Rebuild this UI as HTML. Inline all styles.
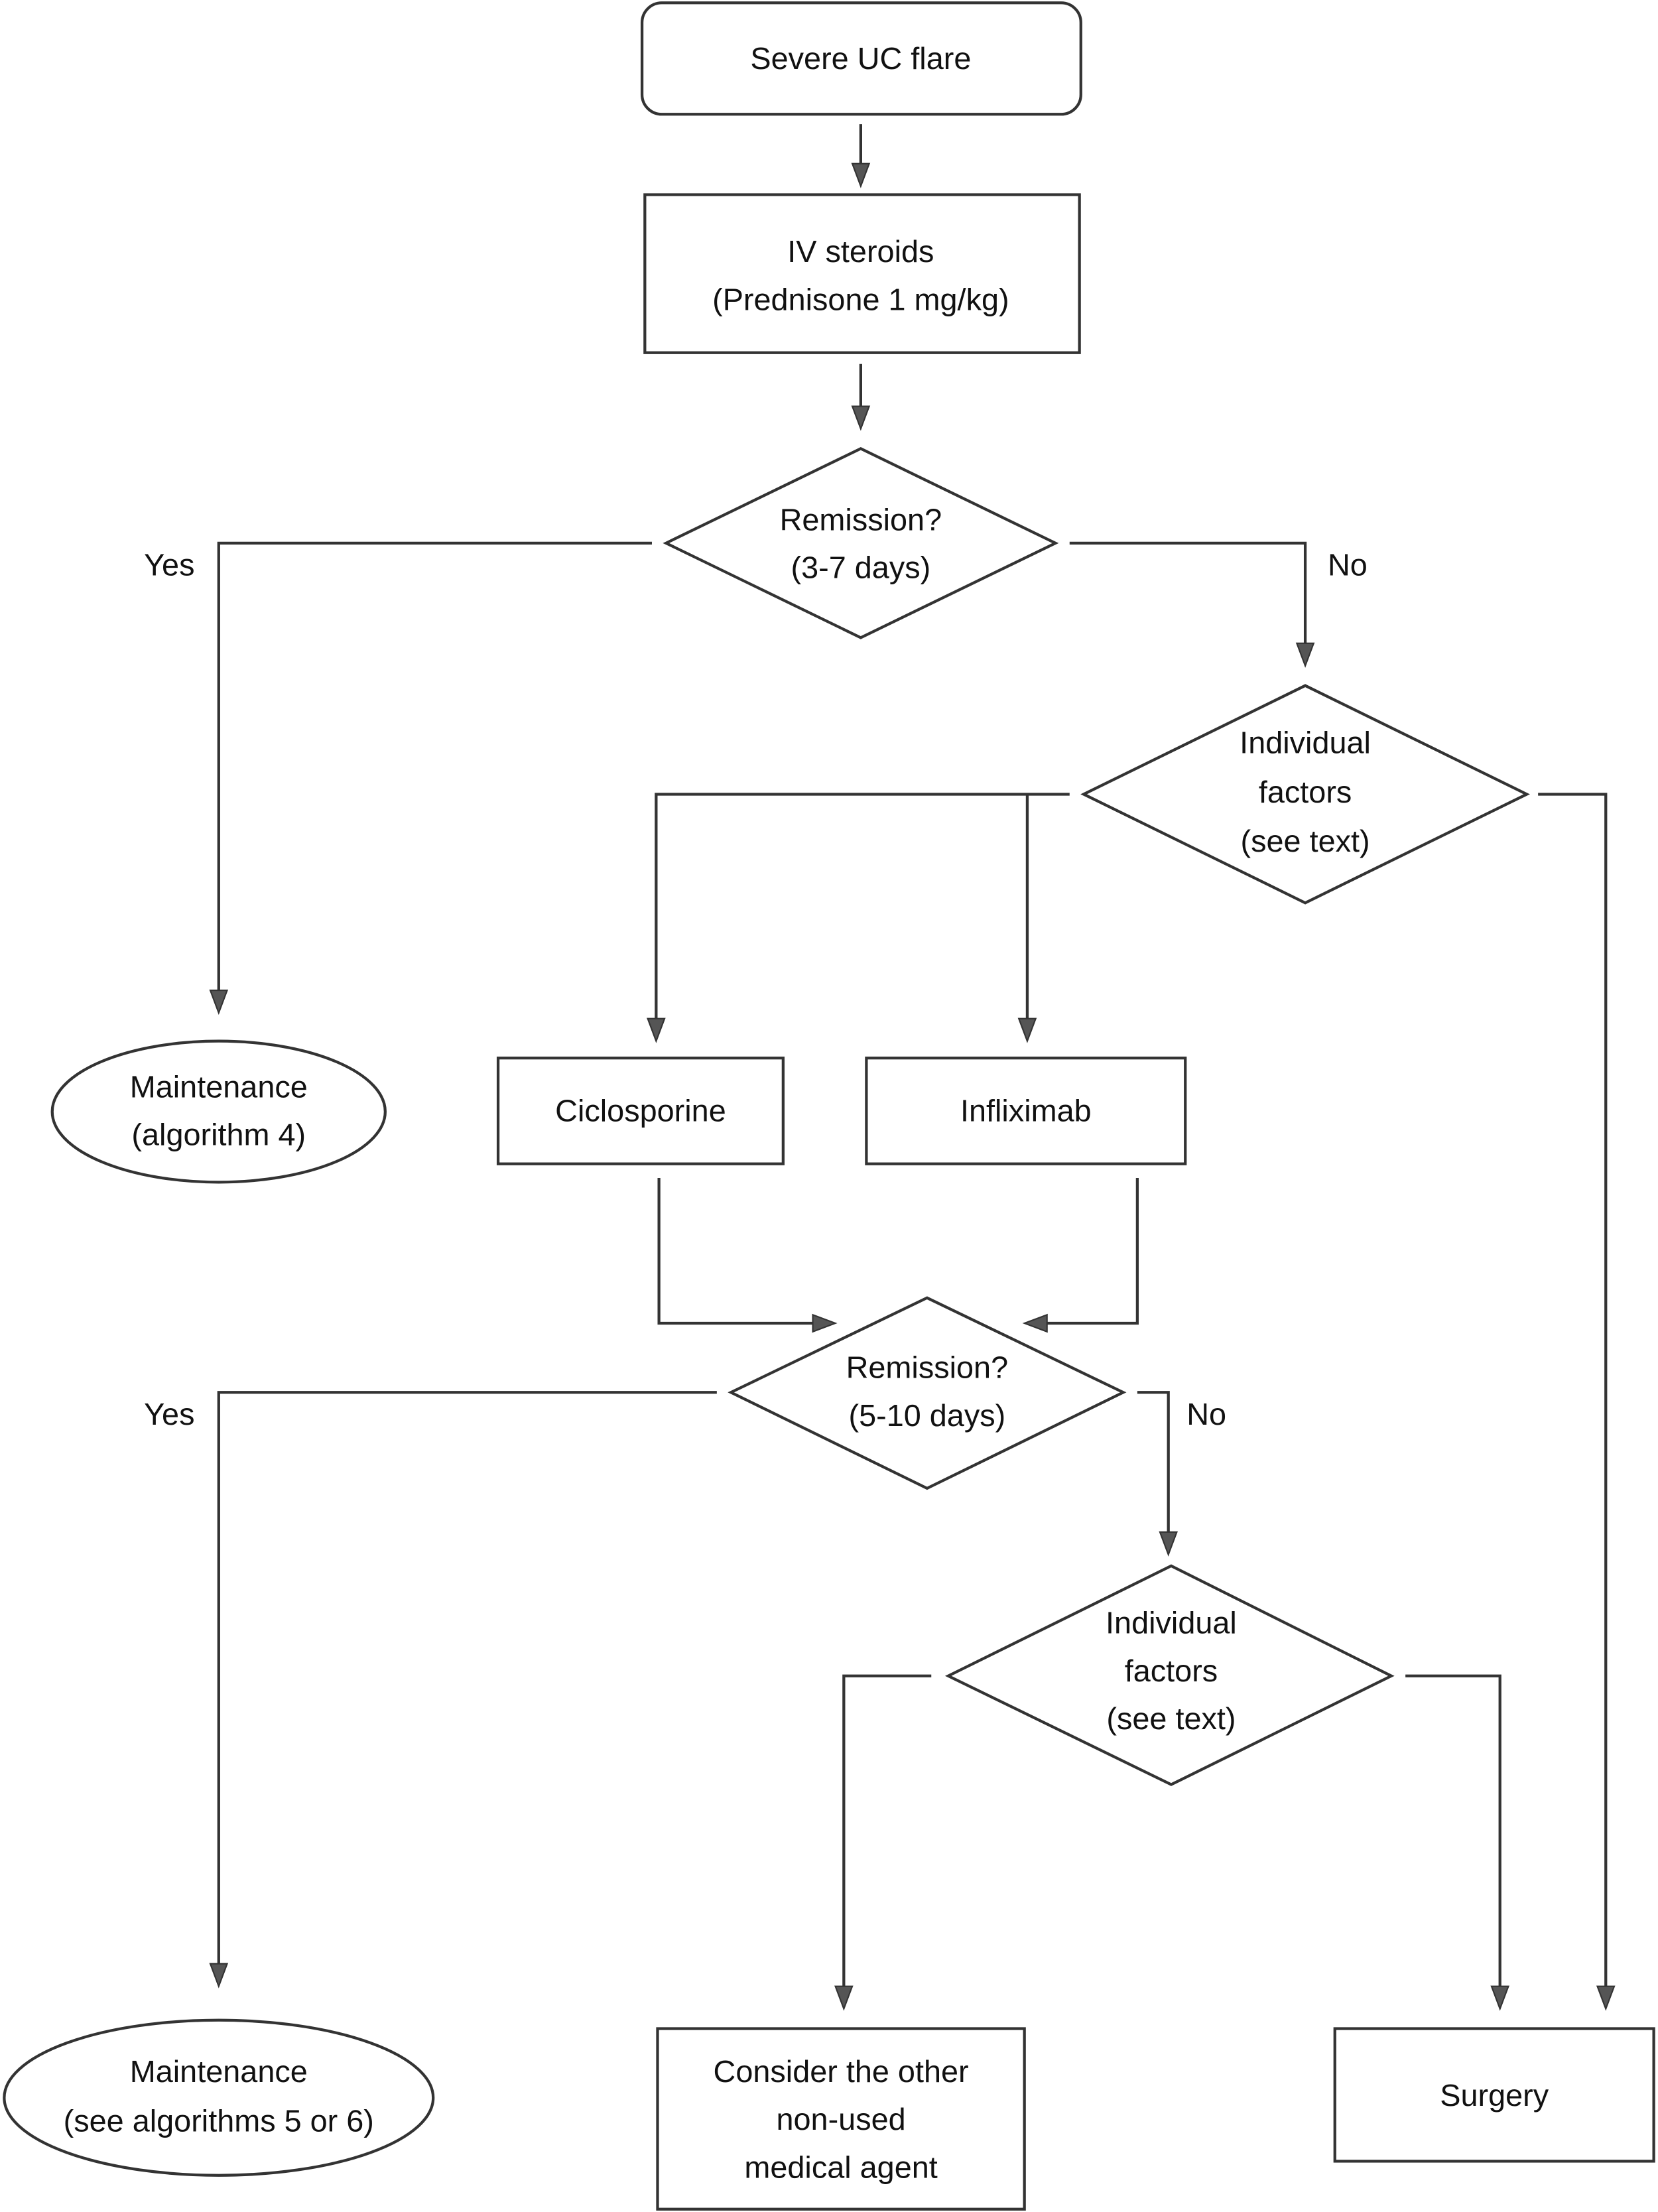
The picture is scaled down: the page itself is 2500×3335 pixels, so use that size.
<!DOCTYPE html>
<html><head><meta charset="utf-8">
<style>
html,body{margin:0;padding:0;background:#fff;}
svg{display:block;}
text{font-family:"Liberation Sans",sans-serif;font-size:22px;fill:#111;text-anchor:middle;dominant-baseline:middle;}
</style></head>
<body>
<svg width="2500" height="3335" viewBox="0 0 1175 1568" preserveAspectRatio="none" xmlns="http://www.w3.org/2000/svg">
<defs>
<marker id="a" markerWidth="12" markerHeight="16" refX="6" refY="16" orient="auto-start-reverse" markerUnits="userSpaceOnUse" viewBox="0 0 12 16">
</marker>
</defs>
<g fill="none" stroke="#333" stroke-width="2">
<rect x="455" y="2" width="311" height="79" rx="14"/>
<rect x="457" y="138" width="308" height="112"/>
<polygon points="472,385 610,318 748,385 610,452"/>
<polygon points="768,563 925,486 1082,563 925,640"/>
<ellipse cx="155" cy="788" rx="118" ry="50"/>
<rect x="353" y="750" width="202" height="75"/>
<rect x="614" y="750" width="226" height="75"/>
<polygon points="518,987 657,920 796,987 657,1055"/>
<polygon points="672,1188 830,1110 986,1188 830,1265"/>
<ellipse cx="155" cy="1487" rx="152" ry="55"/>
<rect x="466" y="1438" width="260" height="128"/>
<rect x="946" y="1438" width="226" height="94"/>
<!-- connectors -->
<polyline points="610,88 610,116"/>
<polyline points="610,258 610,288"/>
<polyline points="462,385 155,385 155,702"/>
<polyline points="758,385 925,385 925,456"/>
<polyline points="758,563 465,563 465,722"/>
<polyline points="728,563 728,722"/>
<polyline points="1090,563 1138,563 1138,1408"/>
<polyline points="467,835 467,938 576,938"/>
<polyline points="806,835 806,938 742,938"/>
<polyline points="508,987 155,987 155,1392"/>
<polyline points="806,987 828,987 828,1086"/>
<polyline points="660,1188 598,1188 598,1408"/>
<polyline points="996,1188 1063,1188 1063,1408"/>
</g>
<g fill="#555" stroke="#333" stroke-width="1">
<polygon points="604,116 616,116 610,132"/>
<polygon points="604,288 616,288 610,304"/>
<polygon points="149,702 161,702 155,718"/>
<polygon points="919,456 931,456 925,472"/>
<polygon points="459,722 471,722 465,738"/>
<polygon points="722,722 734,722 728,738"/>
<polygon points="1132,1408 1144,1408 1138,1424"/>
<polygon points="576,932 576,944 592,938"/>
<polygon points="742,932 742,944 726,938"/>
<polygon points="149,1392 161,1392 155,1408"/>
<polygon points="822,1086 834,1086 828,1102"/>
<polygon points="592,1408 604,1408 598,1424"/>
<polygon points="1057,1408 1069,1408 1063,1424"/>
</g>
<text x="610" y="43">Severe UC flare</text>
<text x="610" y="180">IV steroids</text>
<text x="610" y="214">(Prednisone 1 mg/kg)</text>
<text x="610" y="370">Remission?</text>
<text x="610" y="404">(3-7 days)</text>
<text x="120" y="402">Yes</text>
<text x="955" y="402">No</text>
<text x="925" y="528">Individual</text>
<text x="925" y="563">factors</text>
<text x="925" y="598">(see text)</text>
<text x="155" y="772">Maintenance</text>
<text x="155" y="806">(algorithm 4)</text>
<text x="454" y="789">Ciclosporine</text>
<text x="727" y="789">Infliximab</text>
<text x="657" y="971">Remission?</text>
<text x="657" y="1005">(5-10 days)</text>
<text x="120" y="1004">Yes</text>
<text x="855" y="1004">No</text>
<text x="830" y="1152">Individual</text>
<text x="830" y="1186">factors</text>
<text x="830" y="1220">(see text)</text>
<text x="155" y="1470">Maintenance</text>
<text x="155" y="1505">(see algorithms 5 or 6)</text>
<text x="596" y="1470">Consider the other</text>
<text x="596" y="1504">non-used</text>
<text x="596" y="1538">medical agent</text>
<text x="1059" y="1487">Surgery</text>
</svg>
</body></html>
